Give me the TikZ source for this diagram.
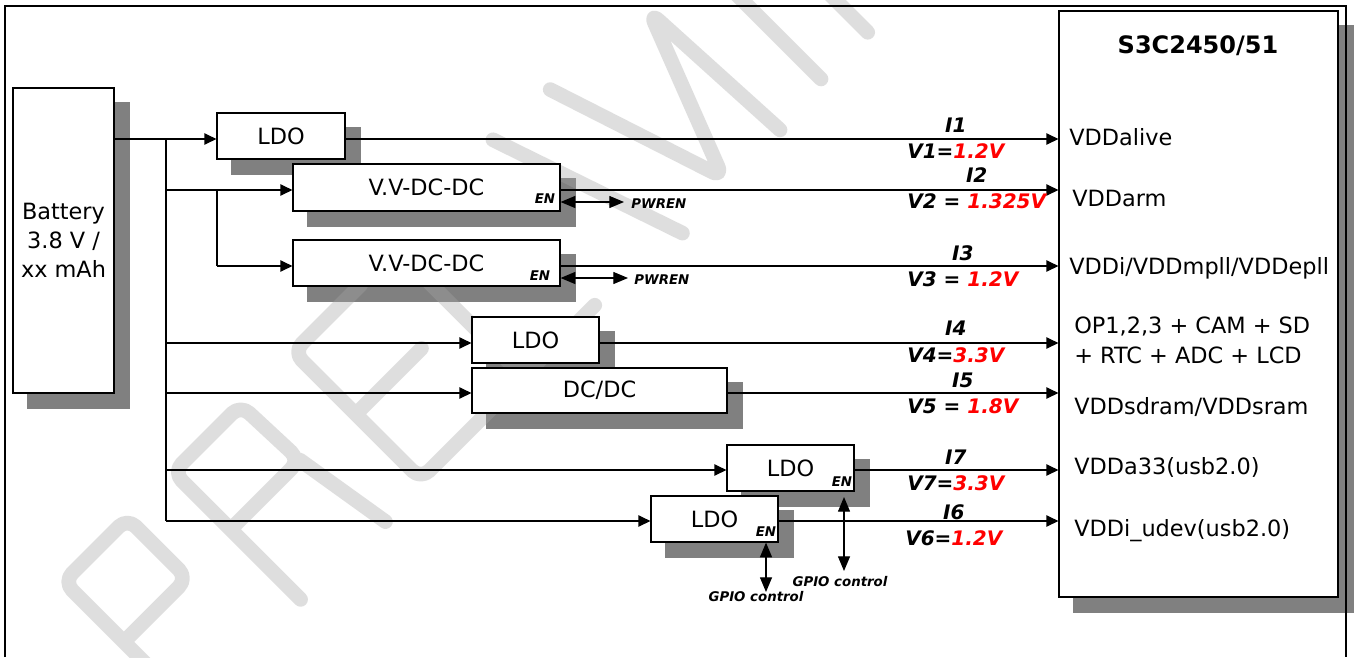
\documentclass[tikz,border=0pt]{standalone}
\usepackage{fontspec}
\setmainfont{DejaVu Sans}
\usetikzlibrary{arrows.meta,calc}
\pgfdeclarelayer{bg}
\pgfdeclarelayer{wmk}
\pgfsetlayers{bg,wmk,main}
\begin{document}
\begin{tikzpicture}[x=0.75pt,y=-0.75pt,
  box/.style={draw=black,line width=0.9pt,fill=white,inner sep=0pt,align=center,
    font=\fontsize{16.8}{21.75}\selectfont},
  sz/.style 2 args={minimum width=#1*0.75pt,minimum height=#2*0.75pt},
  shadowbox/.style={fill=black!50,draw=none},
  conn/.style={line width=0.9pt},
  arr/.style={conn,-{Triangle[length=9pt,width=8.5pt]}},
  darr/.style={conn,{Triangle[length=11pt,width=9pt]}-{Triangle[length=11pt,width=9pt]}},
  lab/.style={font=\fontsize{15}{18}\selectfont\bfseries\itshape,inner sep=0pt},
  small/.style={font=\fontsize{10}{12}\selectfont\bfseries\itshape,inner sep=0pt},
  pin/.style={font=\fontsize{16.8}{21}\selectfont,inner sep=0pt,anchor=base west},
  wm/.style={line width=11pt,line cap=round,line join=round,rounded corners=9pt,
    draw=black!35,draw opacity=0.36}
]
\useasboundingbox (0,0) rectangle (1356,657);

% boxes
\node[box,sz={101}{305}] (bat) at (63.5,240.5) {Battery\\3.8 V /\\xx mAh};
\node[box,sz={128}{46}] (ldo1) at (281,136) {LDO};
\node[box,sz={267}{47}] (vv1) at (426.5,187.5) {V.V-DC-DC};
\node[box,sz={267}{46}] (vv2) at (426.5,263) {V.V-DC-DC};
\node[box,sz={127}{46}] (ldo4) at (535.5,340) {LDO};
\node[box,sz={255}{45}] (dcdc) at (599.5,390.5) {DC/DC};
\node[box,sz={127}{46}] (ldo7) at (790.5,468) {LDO};
\node[box,sz={127}{46}] (ldo6) at (714.5,519) {LDO};
\node[box,sz={279}{586}] (s3c) at (1198.5,304) {};

% shadows and background
\begin{pgfonlayer}{bg}
\fill[white] (0,0) rectangle (1356,657);
\foreach \n in {bat,ldo1,vv1,vv2,ldo4,dcdc,ldo7,ldo6,s3c}
  \fill[shadowbox] ($(\n.south west)+(15,15)$) rectangle ($(\n.north east)+(15,15)$);
\end{pgfonlayer}

% watermark
\begin{pgfonlayer}{wmk}
\begin{scope}
\clip (0,0) rectangle (1356,657);
\begin{scope}[shift={(191,709)},x={(0.53033pt,0.53033pt)},y={(-0.53033pt,0.53033pt)}]
\draw[wm] (0,-80) -- (0,180) -- (90,180) -- (90,95) -- (0,95)
  (155,0) -- (155,180) -- (250,180) -- (253,99) -- (155,99)
  (253,99) -- (270,-5)
  (420,180) -- (325,180) -- (325,0) -- (425,0)
  (325,92) -- (418,92)
  (470,180) -- (470,0) -- (571,0)
  (616,189) -- (684,-11)
  (692,184) -- (752,0) -- (817,168) -- (826,-7)
  (891,0) -- (891,200)
  (957,0) -- (957,200);
\end{scope}
\end{scope}
\end{pgfonlayer}

% junctions
\coordinate (j0) at (166,139);
\coordinate (j1) at (166,190);
\coordinate (k1) at (217,190);
\coordinate (k2) at (217,266);
\coordinate (j3) at (166,343);
\coordinate (j4) at (166,393);
\coordinate (j5) at (166,470);
\coordinate (j6) at (166,521);

% inputs
\draw[arr] (bat.east |- j0) -- (ldo1.west |- j0);
\draw[conn] (j0) -- (j6);
\draw[arr] (j1) -- (vv1.west |- j1);
\draw[conn] (k1) -- (k2);
\draw[arr] (k2) -- (vv2.west |- k2);
\draw[arr] (j3) -- (ldo4.west |- j3);
\draw[arr] (j4) -- (dcdc.west |- j4);
\draw[arr] (j5) -- (ldo7.west |- j5);
\draw[arr] (j6) -- (ldo6.west |- j6);

% outputs
\draw[arr] (ldo1.east |- j0) -- (s3c.west |- j0);
\draw[arr] (vv1.east |- j1) -- (s3c.west |- j1);
\draw[arr] (vv2.east |- k2) -- (s3c.west |- k2);
\draw[arr] (ldo4.east |- j3) -- (s3c.west |- j3);
\draw[arr] (dcdc.east |- j4) -- (s3c.west |- j4);
\draw[arr] (ldo7.east |- j5) -- (s3c.west |- j5);
\draw[arr] (ldo6.east |- j6) -- (s3c.west |- j6);

% enable lines
\coordinate (p1) at (624,202);
\coordinate (p2) at (628,278);
\draw[darr] (vv1.east |- p1) -- (p1);
\draw[darr] (vv2.east |- p2) -- (p2);
\node[small,anchor=west] (pw1) at (631,204) {PWREN};
\node[small,anchor=west] (pw2) at (634,280) {PWREN};
\node[small] (en1) at (545,199) {EN};
\node[small] (en2) at (540,276) {EN};
\node[small] (en7) at (842,482) {EN};
\node[small] (en6) at (766,532) {EN};
\coordinate (g7a) at (844,497);
\coordinate (g7b) at (844,571);
\coordinate (g6b) at (766,592);
\draw[darr] (g7a) -- (g7b);
\draw[darr] (ldo6.south -| g6b) -- (g6b);
\node[small] (gp7) at (840,582) {GPIO control};
\node[small] (gp6) at (756,597) {GPIO control};

% voltage / current labels
\node[lab,anchor=west] (v1) at (907,151) {V1=\textcolor{red}{1.2V}};
\node[lab,anchor=west] (v2) at (907,201) {V2 = \textcolor{red}{1.325V}};
\node[lab,anchor=west] (v3) at (907,279) {V3 = \textcolor{red}{1.2V}};
\node[lab,anchor=west] (v4) at (907,355) {V4=\textcolor{red}{3.3V}};
\node[lab,anchor=west] (v5) at (907,406) {V5 = \textcolor{red}{1.8V}};
\node[lab,anchor=west] (v7) at (907,483) {V7=\textcolor{red}{3.3V}};
\node[lab,anchor=west] (v6) at (905,538) {V6=\textcolor{red}{1.2V}};
\node[lab] (i1) at ($(v1.center)+(0,-26)$) {I1};
\node[lab] (i2) at ($(v2.center)+(0,-26)$) {I2};
\node[lab] (i3) at ($(v3.center)+(0,-26)$) {I3};
\node[lab] (i4) at ($(v4.center)+(0,-27)$) {I4};
\node[lab] (i5) at ($(v5.center)+(0,-26)$) {I5};
\node[lab] (i7) at ($(v7.center)+(0,-26)$) {I7};
\node[lab] (i6) at ($(v6.center)+(0,-26)$) {I6};

% chip texts
\node[font=\fontsize{18}{20}\selectfont\bfseries,inner sep=0pt] (title) at (1198,46) {S3C2450/51};
\node[pin] (p_a) at (1069,145) {VDDalive};
\node[pin] (p_b) at (1072,206) {VDDarm};
\node[pin] (p_c) at (1069,274) {VDDi/VDDmpll/VDDepll};
\node[pin] (p_d) at (1074,333) {OP1,2,3 + CAM + SD};
\node[pin] (p_e) at (1074,363) {+ RTC + ADC + LCD};
\node[pin] (p_f) at (1074,414) {VDDsdram/VDDsram};
\node[pin] (p_g) at (1074,474) {VDDa33(usb2.0)};
\node[pin] (p_h) at (1074,536) {VDDi\_udev(usb2.0)};

% outer frame
\draw[line width=1.1pt] (5,657) -- (5,6) -- (1346,6) -- (1346,657);
\end{tikzpicture}
\end{document}
